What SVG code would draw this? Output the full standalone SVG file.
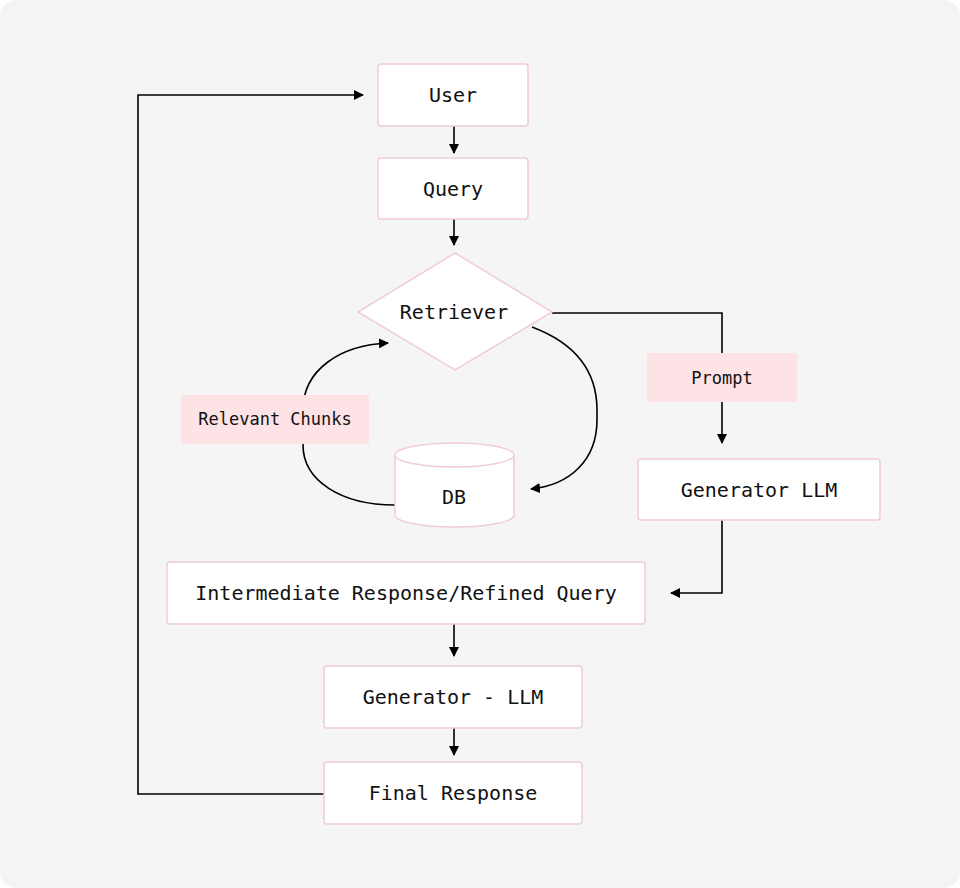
<svg xmlns="http://www.w3.org/2000/svg" width="960" height="888" viewBox="0 0 960 888">
<style>
.n{fill:#fff;stroke:#f0cdd5;stroke-width:1.5}
.l{fill:#fde2e6}
.t{font-family:"DejaVu Sans Mono",monospace;font-size:20px;fill:#111;text-anchor:middle;dominant-baseline:central}
.s{font-size:17px}
.c{fill:none;stroke:#000;stroke-width:1.6}
</style>
<defs><marker id="a" viewBox="0 0 10 10" refX="9" refY="5" markerWidth="10" markerHeight="10" markerUnits="userSpaceOnUse" orient="auto"><path d="M0,0L10,5L0,10z" fill="#000"/></marker></defs>
<rect width="960" height="888" rx="16" fill="#f5f5f5"/>
<g id="connectors">
<path class="c" marker-end="url(#a)" d="M454,126V153"/>
<path class="c" marker-end="url(#a)" d="M454,219V245"/>
<path class="c" marker-end="url(#a)" d="M552,313H722V443"/>
<path class="c" marker-end="url(#a)" d="M722,520V593H671"/>
<path class="c" marker-end="url(#a)" d="M454,624V656"/>
<path class="c" marker-end="url(#a)" d="M454,728V755"/>
<path class="c" marker-end="url(#a)" d="M324,794H138V95H363"/>
<path class="c" marker-end="url(#a)" d="M532,327C580,345 597,375 597,410V420C597,460 570,485 531,489"/>
<path class="c" marker-end="url(#a)" d="M395,505C340,505 303,480 303,445V410C303,370 340,345 388,343"/>
</g>
<g id="user"><rect class="n" x="378" y="64" width="150" height="62" rx="3"/><text class="t" x="453" y="95">User</text></g>
<g id="query"><rect class="n" x="378" y="158" width="150" height="61" rx="3"/><text class="t" x="453" y="189">Query</text></g>
<g id="retriever"><path class="n" d="M455,253L552,312L455,370L358,312Z"/><text class="t" x="454" y="312">Retriever</text></g>
<g id="prompt"><rect class="l" x="647" y="353" width="150" height="49"/><text class="t s" x="722" y="378">Prompt</text></g>
<g id="chunks"><rect class="l" x="181" y="395" width="188" height="49"/><text class="t s" x="275" y="419">Relevant Chunks</text></g>
<g id="db"><path class="n" d="M395,455V515A59.5,12 0 0 0 514,515V455"/><ellipse class="n" cx="454.5" cy="455" rx="59.5" ry="12"/><text class="t" x="454" y="497">DB</text></g>
<g id="genllm"><rect class="n" x="638" y="459" width="242" height="61" rx="3"/><text class="t" x="759" y="490">Generator LLM</text></g>
<g id="inter"><rect class="n" x="167" y="562" width="478" height="62" rx="3"/><text class="t" x="406" y="593">Intermediate Response/Refined Query</text></g>
<g id="gen2"><rect class="n" x="324" y="666" width="258" height="62" rx="3"/><text class="t" x="453" y="697">Generator - LLM</text></g>
<g id="final"><rect class="n" x="324" y="762" width="258" height="62" rx="3"/><text class="t" x="453" y="793">Final Response</text></g>
</svg>
